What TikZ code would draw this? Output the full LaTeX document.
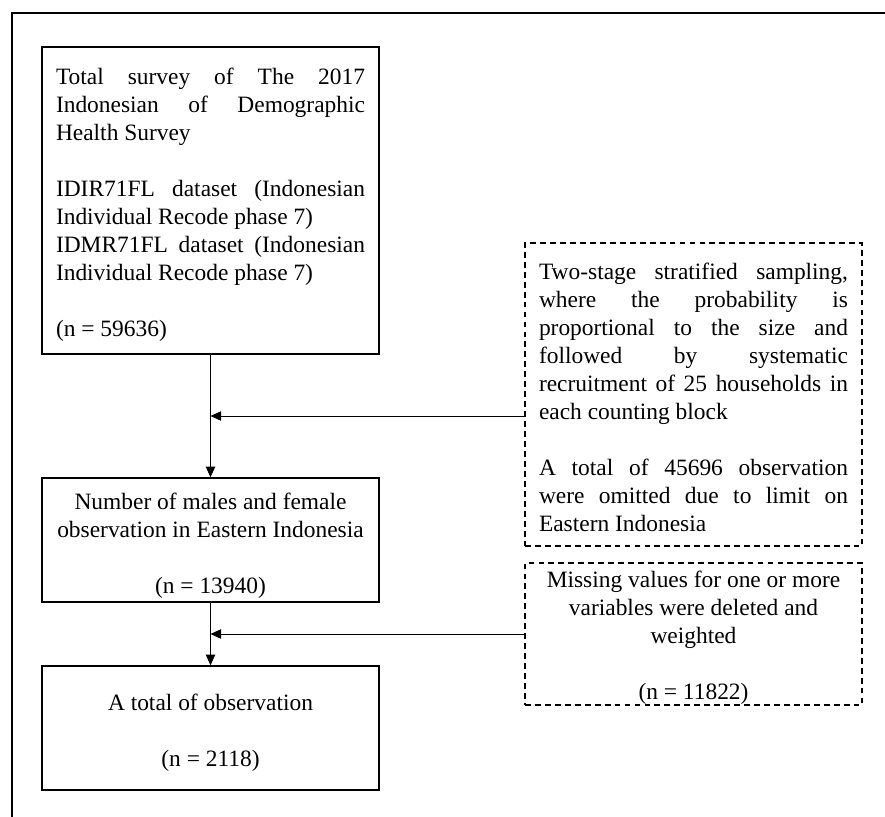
\documentclass[tikz,border=0pt]{standalone}
\usepackage{fontspec}
\setmainfont{Liberation Serif}
\usepackage{tikz}
\usetikzlibrary{shapes.geometric, arrows.meta}
\tikzstyle{process} = [rectangle, minimum width=10.11cm, text width=9.27cm, inner xsep=0.42cm, inner ysep=0pt, align=justify, draw=black, line width=1.3pt, fill=white]
\tikzstyle{centred} = [text width=10cm, inner xsep=0.055cm, align=flush center]
\tikzstyle{note} = [rectangle, minimum width=10.11cm, text width=9.27cm, inner xsep=0.42cm, inner ysep=0pt, align=justify, draw=black, line width=1.5pt, dash pattern=on 5pt off 3.5pt, fill=white]
\tikzstyle{arrow} = [line width=0.7pt,->,>={Triangle[length=9pt,width=8pt]}]

\begin{document}
\begin{tikzpicture}[node distance=1.5cm, font=\fontsize{20}{23.9}\selectfont\sloppy]
		\useasboundingbox (0,0) rectangle (26.55,-24.51);
		\draw [line width=1.8pt] (0.36,-24.6) -- (0.36,-0.39) -- (26.7,-0.39);
		
		\node (box1) [process, minimum height=9.21cm, text height=1.12cm, text depth=8.09cm] at (6.315,-6.015) {Total survey of The 2017\linebreak Indonesian of Demographic\linebreak Health Survey\\[\baselineskip] IDIR71FL dataset (Indonesian\linebreak Individual Recode phase 7)\\ IDMR71FL dataset (Indonesian\linebreak Individual Recode phase 7)\\[\baselineskip] (n = 59636)};
		\node (box2) [process, centred, below of=box1, yshift=-8.685cm, minimum height=3.72cm, text height=0.94cm, text depth=2.78cm] {Number of males and female\\ observation in Eastern Indonesia\\[\baselineskip] (n = 13940)};
		\node (box3) [process, centred, below of=box2, yshift=-4.14cm, minimum height=3.72cm, text height=1.33cm, text depth=2.39cm] {A total of observation\\[\baselineskip] (n = 2118)};
		\node (note1) [note, right of=box1, xshift=12.99cm, yshift=-5.82cm, minimum height=9.09cm, text height=1.09cm, text depth=8.0cm] {Two-stage stratified sampling,\linebreak where the probability is\linebreak proportional to the size and\linebreak followed by systematic\linebreak recruitment of 25 households in\linebreak each counting block\\[\baselineskip] A total of 45696 observation\linebreak were omitted due to limit on\linebreak Eastern Indonesia};
		\node (note2) [note, centred, below of=note1, yshift=-5.685cm, minimum height=4.26cm, text height=0.73cm, text depth=3.53cm] {Missing values for one or more\\ variables were deleted and\\ weighted\\[\baselineskip] (n = 11822)};
		
		\coordinate (from1) at ([yshift=-0.645cm]note1.west);
		\coordinate (join1) at (from1 -| box1.south);
		\coordinate (join2) at (note2.west -| box2.south);
		
		\draw [arrow] (box1) -- (box2);
		\draw [arrow] (box2) -- (box3);
		\draw [arrow] (from1) -- (join1);
		\draw [arrow] (note2) -- (join2);
		
\end{tikzpicture}
\end{document}
